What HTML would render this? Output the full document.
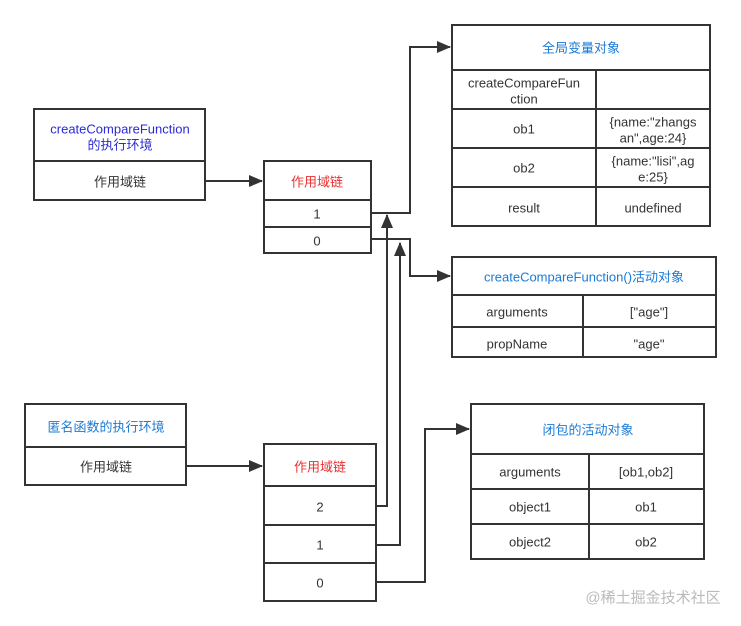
<!DOCTYPE html>
<html><head><meta charset="utf-8"><style>
html,body{margin:0;padding:0;background:#fff;}
svg{display:block;}
text{font-family:"Liberation Sans","Noto Sans CJK SC",sans-serif;font-size:13px;text-anchor:middle;dominant-baseline:central;fill:#333;}
.b{fill:#1a7ad6}.p{fill:#2a2ad6}.r{fill:#e83030}
</style></head><body>
<svg width="741" height="626" viewBox="0 0 741 626" xmlns="http://www.w3.org/2000/svg">
<defs><marker id="a" markerWidth="10" markerHeight="10" refX="9" refY="5" orient="auto" markerUnits="userSpaceOnUse"><path d="M0,0 L10,5 L0,10 z" fill="#333"/></marker>
<marker id="ah" viewBox="0 0 14 12" markerWidth="14" markerHeight="12" refX="13" refY="6" orient="auto" markerUnits="userSpaceOnUse"><path d="M0,0 L14,6 L0,12 z" fill="#333"/></marker></defs>
<g fill="none" stroke="#333" stroke-width="2">
<!-- Box A -->
<rect x="34" y="109" width="171" height="91"/><line x1="34" y1="161" x2="205" y2="161"/>
<!-- SC1 -->
<rect x="264" y="161" width="107" height="92"/><line x1="264" y1="200" x2="371" y2="200"/><line x1="264" y1="227" x2="371" y2="227"/>
<!-- Global -->
<rect x="452" y="25" width="258" height="201"/>
<line x1="452" y1="70" x2="710" y2="70"/><line x1="452" y1="109" x2="710" y2="109"/><line x1="452" y1="148" x2="710" y2="148"/><line x1="452" y1="187" x2="710" y2="187"/>
<line x1="596" y1="70" x2="596" y2="226"/>
<!-- Activation -->
<rect x="452" y="257" width="264" height="100"/><line x1="452" y1="295" x2="716" y2="295"/><line x1="452" y1="327" x2="716" y2="327"/><line x1="583" y1="295" x2="583" y2="357"/>
<!-- Anon -->
<rect x="25" y="404" width="161" height="81"/><line x1="25" y1="447" x2="186" y2="447"/>
<!-- SC2 -->
<rect x="264" y="444" width="112" height="157"/><line x1="264" y1="486" x2="376" y2="486"/><line x1="264" y1="525" x2="376" y2="525"/><line x1="264" y1="563" x2="376" y2="563"/>
<!-- Closure -->
<rect x="471" y="404" width="233" height="155"/><line x1="471" y1="454" x2="704" y2="454"/><line x1="471" y1="489" x2="704" y2="489"/><line x1="471" y1="524" x2="704" y2="524"/><line x1="589" y1="454" x2="589" y2="559"/>
<!-- connectors -->
<path d="M205,181 H262" marker-end="url(#ah)"/>
<path d="M371,213 H410 V47 H450" marker-end="url(#ah)"/>
<path d="M371,239 H410 V276 H450" marker-end="url(#ah)"/>
<path d="M186,466 H262" marker-end="url(#ah)"/>
<path d="M376,506 H387 V215" marker-end="url(#ah)"/>
<path d="M376,545 H400 V243" marker-end="url(#ah)"/>
<path d="M376,582 H425 V429 H469" marker-end="url(#ah)"/>
</g>
<text x="120" y="129" class="p">createCompareFunction</text>
<text x="120" y="145" class="p">的执行环境</text>
<text x="120" y="182">作用域链</text>
<text x="317" y="182" class="r">作用域链</text>
<text x="317" y="214">1</text>
<text x="317" y="241">0</text>
<text x="581" y="48" class="b">全局变量对象</text>
<text x="524" y="83">createCompareFun</text>
<text x="524" y="99">ction</text>
<text x="524" y="129">ob1</text>
<text x="653" y="122">{name:"zhangs</text>
<text x="653" y="138">an",age:24}</text>
<text x="524" y="168">ob2</text>
<text x="653" y="161">{name:"lisi",ag</text>
<text x="653" y="177">e:25}</text>
<text x="524" y="208">result</text>
<text x="653" y="208">undefined</text>
<text x="584" y="277" class="b">createCompareFunction()活动对象</text>
<text x="517" y="312">arguments</text>
<text x="649" y="312">["age"]</text>
<text x="517" y="344">propName</text>
<text x="649" y="344">"age"</text>
<text x="106" y="427" class="b">匿名函数的执行环境</text>
<text x="106" y="467">作用域链</text>
<text x="320" y="467" class="r">作用域链</text>
<text x="320" y="507">2</text>
<text x="320" y="545">1</text>
<text x="320" y="583">0</text>
<text x="588" y="430" class="b">闭包的活动对象</text>
<text x="530" y="472">arguments</text>
<text x="646" y="472">[ob1,ob2]</text>
<text x="530" y="507">object1</text>
<text x="646" y="507">ob1</text>
<text x="530" y="542">object2</text>
<text x="646" y="542">ob2</text>
<text x="653" y="598" style="fill:#bbb;font-size:15px">@稀土掘金技术社区</text>
</svg>
</body></html>
